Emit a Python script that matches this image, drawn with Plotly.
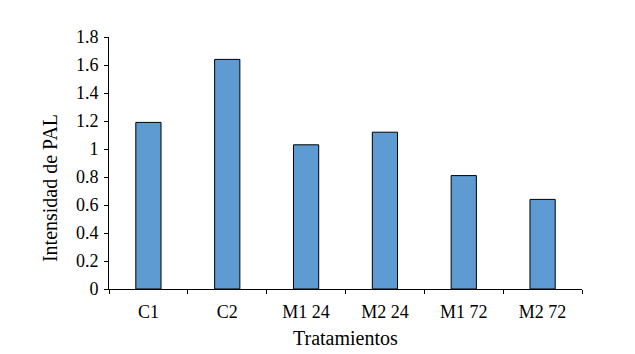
import plotly.graph_objects as go

categories = ["C1", "C2", "M1 24", "M2 24", "M1 72", "M2 72"]
values = [1.19, 1.64, 1.03, 1.12, 0.81, 0.64]
y_ticks = [0, 0.2, 0.4, 0.6, 0.8, 1, 1.2, 1.4, 1.6, 1.8]
y_tick_labels = ["0", "0.2", "0.4", "0.6", "0.8", "1", "1.2", "1.4", "1.6", "1.8"]

font_family = "Liberation Serif, Times New Roman, serif"

fig = go.Figure(
    go.Bar(
        x=categories,
        y=values,
        marker=dict(color="#5F9BD3", line=dict(color="black", width=1)),
    )
)

fig.update_layout(
    width=635,
    height=354,
    margin=dict(l=109, r=53, t=37, b=65),
    paper_bgcolor="white",
    plot_bgcolor="white",
    bargap=0.68,
    showlegend=False,
    font=dict(family=font_family, size=18, color="black"),
    annotations=[
        dict(
            text="Intensidad de PAL",
            textangle=-90,
            xref="paper",
            yref="paper",
            x=-0.125,
            y=0.40,
            xanchor="center",
            yanchor="middle",
            showarrow=False,
            font=dict(family=font_family, size=20, color="black"),
        ),
        dict(
            text="Tratamientos",
            xref="paper",
            yref="paper",
            x=0.5,
            y=-0.194,
            xanchor="center",
            yanchor="middle",
            showarrow=False,
            font=dict(family=font_family, size=20, color="black"),
        ),
    ],
)

fig.update_xaxes(
    type="category",
    showline=True,
    linecolor="black",
    linewidth=1,
    ticks="outside",
    tickson="boundaries",
    ticklen=4,
    tickcolor="black",
    showgrid=False,
    automargin=False,
    ticklabelstandoff=6,
    tickfont=dict(family=font_family, size=18, color="black"),
)

fig.update_yaxes(
    range=[0, 1.8],
    tickvals=y_ticks,
    ticktext=y_tick_labels,
    showline=True,
    linecolor="black",
    linewidth=1,
    ticks="outside",
    ticklen=4,
    tickcolor="black",
    showgrid=False,
    zeroline=False,
    automargin=False,
    ticklabelstandoff=2,
    tickfont=dict(family=font_family, size=18, color="black"),
)

fig.write_html("out.html")
